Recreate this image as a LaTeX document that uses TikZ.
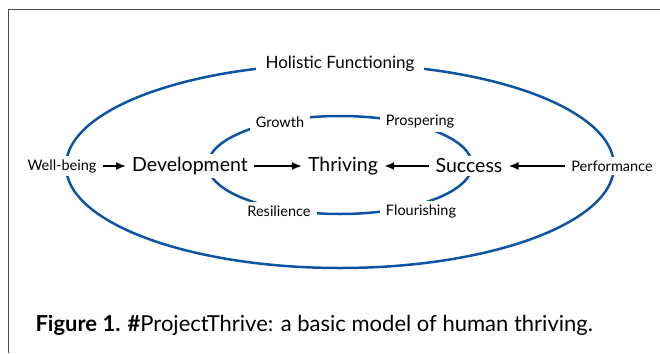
\documentclass[tikz,border=0pt]{standalone}
\usepackage{fontspec}
\setmainfont{Lato}
\usetikzlibrary{arrows.meta}
\definecolor{ringblue}{RGB}{14,84,164}

\begin{document}
\begin{tikzpicture}[x=1pt,y=-1pt,
    ring/.style={ringblue,line width=2.5pt},
    big/.style={fill=white,inner xsep=6pt,font=\fontsize{19.5}{22}\selectfont},
    small/.style={fill=white,inner xsep=6pt,font=\fontsize{14.5}{17}\selectfont},
    push/.style={-{Latex[length=10pt,width=8pt]},line width=1.8pt}]
            \useasboundingbox (0,0) rectangle (660,353);
            \draw [gray!60!black,line width=1pt] (8,353) -- (8,10) -- (660,10);
            % the two rings
            \draw [ring] (340,166) ellipse (274pt and 102pt);
            \draw [ring] (340,165) ellipse (132pt and 49pt);
            \node [small,font=\fontsize{17}{20}\selectfont,inner xsep=10pt] (hol) at (340,64) {Holistic Functioning};
            \node [small] (gro) at (280,122) {Growth};
            \node [small] (pro) at (420,122) {Prospering};
            \node [small] (res) at (279,211) {Resilience};
            \node [small] (flo) at (421,211) {Flourishing};
            \node [small] (wb) at (62,166) {Well-being};
            \node [small] (perf) at (612,166) {Performance};
            \node [big] (dev) at (190,166) {Development};
            \node [big] (thr) at (343,166) {Thriving};
            \node [big] (suc) at (469,166) {Success};
            \draw [push] (wb) -- (dev);
            \draw [push] (dev) -- (thr);
            \draw [push] (suc) -- (thr);
            \draw [push] (perf) -- (suc);
            \node [anchor=west,font=\fontsize{22}{26}\selectfont] (cap) at (32,325)
                {\textbf{Figure 1. \#}ProjectThrive: a basic model of human thriving.};
        \end{tikzpicture}
\end{document}
